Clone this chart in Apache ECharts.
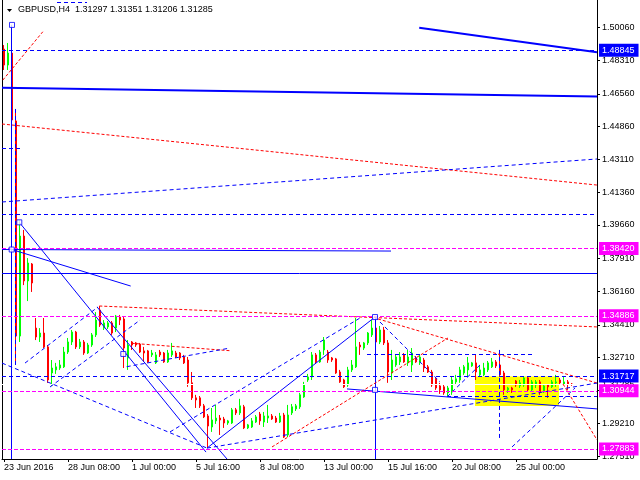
<!DOCTYPE html>
<html><head><meta charset="utf-8">
<script src="https://cdn.jsdelivr.net/npm/echarts@6/dist/echarts.min.js"></script>
<style>html,body{margin:0;padding:0;background:#fff}#c{width:640px;height:480px}</style>
</head><body><div id="c"></div>
<script>
// ---------- data ----------
const symbolName = 'GBPUSD,H4';
const lastBarOHLC = [1.31297, 1.31351, 1.31206, 1.31285];
// candles: [open, close, low, high], one per H4 bar starting 23 Jun 16:00
const candles = [
[1.4891,1.4807,1.4781,1.4912],[1.4807,1.4870,1.4781,1.4923],[1.4870,1.4518,1.4507,1.5018],[1.4513,1.3382,1.3230,1.4576],
[1.3382,1.3908,1.3351,1.3992],[1.3908,1.3672,1.3650,1.3940],[1.3672,1.3766,1.3566,1.3792],[1.3761,1.3661,1.3614,1.3766],
[1.3424,1.3377,1.3361,1.3477],[1.3377,1.3398,1.3351,1.3424],[1.3398,1.3325,1.3319,1.3477],[1.3325,1.3151,1.3136,1.3335],
[1.3188,1.3214,1.3120,1.3256],[1.3204,1.3220,1.3183,1.3241],[1.3214,1.3230,1.3204,1.3256],[1.3220,1.3298,1.3214,1.3325],
[1.3298,1.3351,1.3288,1.3372],[1.3351,1.3403,1.3335,1.3414],[1.3403,1.3325,1.3314,1.3409],[1.3325,1.3351,1.3314,1.3367],
[1.3351,1.3293,1.3283,1.3361],[1.3293,1.3335,1.3288,1.3346],[1.3335,1.3388,1.3325,1.3398],[1.3388,1.3466,1.3377,1.3508],
[1.3519,1.3440,1.3430,1.3540],[1.3424,1.3451,1.3414,1.3466],[1.3430,1.3451,1.3419,1.3461],[1.3451,1.3398,1.3388,1.3461],
[1.3424,1.3487,1.3403,1.3493],[1.3482,1.3466,1.3440,1.3493],[1.3472,1.3319,1.3214,1.3482],[1.3267,1.3335,1.3204,1.3361],
[1.3351,1.3335,1.3309,1.3356],[1.3346,1.3335,1.3325,1.3351],[1.3340,1.3298,1.3293,1.3346],[1.3304,1.3293,1.3246,1.3325],
[1.3304,1.3246,1.3241,1.3309],[1.3283,1.3293,1.3272,1.3309],[1.3241,1.3283,1.3235,1.3298],[1.3298,1.3283,1.3272,1.3309],
[1.3293,1.3246,1.3241,1.3298],[1.3246,1.3293,1.3241,1.3309],[1.3283,1.3304,1.3272,1.3346],[1.3293,1.3272,1.3267,1.3304],
[1.3293,1.3267,1.3256,1.3298],[1.3272,1.3241,1.3235,1.3283],[1.3256,1.3136,1.3115,1.3272],[1.3136,1.3057,1.3046,1.3193],
[1.3057,1.3046,1.3004,1.3073],[1.3057,1.3015,1.3004,1.3067],[1.3015,1.2957,1.2951,1.3025],[1.2962,1.2909,1.2793,1.2972],
[1.2904,1.2941,1.2878,1.3004],[1.2936,1.2951,1.2920,1.3020],[1.2951,1.2941,1.2862,1.2967],[1.2946,1.2925,1.2899,1.2957],
[1.2925,1.2936,1.2915,1.2941],[1.2925,1.2994,1.2920,1.3004],[1.2994,1.2978,1.2967,1.3004],[1.2978,1.3015,1.2967,1.3052],
[1.3010,1.2899,1.2893,1.3020],[1.2899,1.2915,1.2893,1.2920],[1.2904,1.2936,1.2899,1.2951],[1.2930,1.2957,1.2925,1.2967],
[1.2972,1.2936,1.2915,1.2983],[1.2930,1.2962,1.2904,1.2983],[1.2951,1.2962,1.2925,1.3020],[1.2962,1.2946,1.2941,1.2972],
[1.2951,1.2930,1.2925,1.2962],[1.2930,1.2962,1.2925,1.2978],[1.2967,1.2851,1.2846,1.2978],[1.2862,1.2967,1.2851,1.3020],
[1.2978,1.3010,1.2967,1.3025],[1.2999,1.3015,1.2988,1.3025],[1.3010,1.3073,1.2999,1.3083],[1.3062,1.3125,1.3057,1.3141],
[1.3151,1.3167,1.3141,1.3183],[1.3167,1.3283,1.3151,1.3298],[1.3283,1.3246,1.3235,1.3293],[1.3246,1.3298,1.3241,1.3309],
[1.3309,1.3361,1.3283,1.3377],[1.3298,1.3256,1.3241,1.3309],[1.3267,1.3256,1.3246,1.3272],[1.3262,1.3188,1.3183,1.3267],
[1.3193,1.3141,1.3136,1.3204],[1.3151,1.3115,1.3109,1.3157],[1.3125,1.3204,1.3115,1.3220],[1.3204,1.3230,1.3193,1.3256],
[1.3220,1.3325,1.3214,1.3477],[1.3335,1.3325,1.3283,1.3351],[1.3319,1.3346,1.3309,1.3351],[1.3346,1.3398,1.3335,1.3403],
[1.3388,1.3424,1.3377,1.3466],[1.3424,1.3351,1.3335,1.3482],[1.3351,1.3414,1.3340,1.3435],[1.3414,1.3346,1.3335,1.3430],
[1.3346,1.3193,1.3136,1.3361],[1.3188,1.3256,1.3151,1.3309],[1.3230,1.3272,1.3220,1.3283],[1.3246,1.3272,1.3230,1.3298],
[1.3283,1.3246,1.3241,1.3293],[1.3241,1.3272,1.3225,1.3309],[1.3230,1.3293,1.3193,1.3319],[1.3267,1.3246,1.3241,1.3277],
[1.3241,1.3272,1.3230,1.3283],[1.3256,1.3214,1.3193,1.3267],[1.3220,1.3193,1.3188,1.3230],[1.3193,1.3125,1.3115,1.3204],
[1.3157,1.3109,1.3099,1.3167],[1.3120,1.3099,1.3078,1.3136],[1.3115,1.3083,1.3073,1.3125],[1.3083,1.3109,1.3062,1.3120],
[1.3088,1.3151,1.3073,1.3167],[1.3141,1.3157,1.3130,1.3178],[1.3151,1.3204,1.3136,1.3220],[1.3188,1.3220,1.3178,1.3230],
[1.3204,1.3241,1.3167,1.3272],[1.3225,1.3241,1.3220,1.3246],[1.3241,1.3193,1.3151,1.3283],[1.3178,1.3204,1.3167,1.3230],
[1.3178,1.3214,1.3172,1.3241],[1.3204,1.3241,1.3193,1.3251],[1.3220,1.3246,1.3214,1.3267],[1.3246,1.3225,1.3214,1.3256],
[1.3230,1.3178,1.3167,1.3298],[1.3188,1.3099,1.3073,1.3199],[1.3099,1.3109,1.3083,1.3115],[1.3109,1.3099,1.3083,1.3115],
[1.3146,1.3125,1.3115,1.3151],[1.3120,1.3136,1.3109,1.3151],[1.3125,1.3162,1.3115,1.3167],[1.3162,1.3099,1.3088,1.3167],
[1.3099,1.3141,1.3088,1.3151],[1.3125,1.3141,1.3109,1.3151],[1.3141,1.3088,1.3073,1.3151],[1.3088,1.3120,1.3083,1.3125],
[1.3125,1.3115,1.3057,1.3130],[1.3115,1.3141,1.3109,1.3151],[1.3136,1.3141,1.3115,1.3178],[1.3151,1.3136,1.3125,1.3162],
[1.3130,1.3141,1.3125,1.3167],[1.3141,1.3130,1.3099,1.3151],[1.31297,1.31285,1.31206,1.31351]
];
const xTickIndex = [0,16,32,48,64,80,96,112,128];
const xTickLabels = ['23 Jun 2016','28 Jun 08:00','1 Jul 00:00','5 Jul 16:00','8 Jul 08:00','13 Jul 00:00','15 Jul 16:00','20 Jul 08:00','25 Jul 00:00'];
const yTickValues = [1.50060,1.48310,1.46560,1.44860,1.43110,1.41360,1.39660,1.37910,1.36160,1.34410,1.32710,1.30960,1.29210,1.27510];
const xRange = [-0.5, 148.25];
const yRange = [1.27356, 1.51490];
const bidPrice = 1.31285;
// horizontal levels
const blueLabelLevels = [1.48845, 1.31717];
const magentaLabelLevels = [1.38420, 1.34886, 1.30944, 1.27883];
const blueDashLevels = [1.4024];
const blueSolidLevels = [1.3712];
// drawn segments: [barIndex1, price1, barIndex2, price2]
const blueThickLines = [[-0.5,1.4688,148.25,1.4641],[103.8,1.5003,148.25,1.4874]];
const blueSolidLines = [
[-0.5,1.3837,96.75,1.3829],[1.925,1.5018,1.925,1.27356],[1.925,1.3837,31.675,1.3645],
[3.825,1.3980,50.5,1.2772],[23.25,1.3535,55.75,1.27356],[50.75,1.2793,92.75,1.3482],
[85.75,1.3104,148.25,1.2999],[92.75,1.3482,92.75,1.27356]
];
const blueDashLines = [
[-0.5,1.4087,148.25,1.4313],[13.25,1.5135,20.75,1.5135],[-0.5,1.4371,4.75,1.4371],[2.75,1.4576,2.75,1.3230],
[30.675,1.3221,56.5,1.3319],[5.25,1.3240,23.5,1.3535],[11.5,1.3114,34,1.3466],[-0.5,1.3240,50.75,1.2793],
[50.75,1.2793,148.25,1.3135],[41.5,1.2878,89,1.3477],[92.75,1.3482,109,1.3141],[90.75,1.3288,132.75,1.3288],
[123.825,1.3309,123.825,1.2836],[110.75,1.3067,148.25,1.3067],[127,1.2799,142.75,1.3109],[110.75,1.3062,119,1.3230]
];
const redDashLines = [
[-0.5,1.4497,148.25,1.4176],[-0.3,1.4728,9.7,1.4982],[23.825,1.3540,148.25,1.3430],[31.925,1.3344,56.5,1.3305],
[67,1.2799,111,1.3372],[93.5,1.3472,148.25,1.3135],[139.75,1.3130,148.25,1.2836]
];
const yellowZones = [[117.75,1.3170,138.75,1.3014]];
const anchorPoints = [[2,1.5018],[3.825,1.3980],[1.925,1.3837],[29.825,1.3288],[92.75,1.3482],[92.75,1.3099]];

// ---------- chart ----------
const FONT = 'Liberation Sans';
const BLUE = '#0000ff', RED = '#ff0000', MAG = '#ff00ff';
const boxLabel = (v, bg, fg) => ({
  show: true, position: 'end', distance: 2, formatter: v.toFixed(5),
  color: fg, backgroundColor: bg, fontFamily: FONT, fontSize: 9,
  padding: [2, 4, 1, 3], lineHeight: 10
});
// a horizontal level is a segment across the whole plot, at the level's price
const levelSeg = v => [xRange[0], v, xRange[1], v];
const ml = (color, type, width, levels, segs, labelFn, z) => {
  const data = levels.map(v => {
    const s = levelSeg(v);
    const a = {coord: [s[0], s[1]]};
    if (labelFn) a.label = labelFn(v);
    return [a, {coord: [s[2], s[3]]}];
  }).concat(segs.map(s => [{coord: [s[0], s[1]]}, {coord: [s[2], s[3]]}]));
  return {
    type: 'line', data: [], z: z || 3, silent: true, animation: false,
    markLine: {
      symbol: ['none','none'], silent: true, animation: false, precision: 5,
      label: {show: false}, emphasis: {disabled: true},
      lineStyle: {color: color, type: type, width: width, opacity: 1},
      data: data
    }
  };
};

const chart = echarts.init(document.getElementById('c'), null, {renderer: 'canvas'});
chart.setOption({
  animation: false,
  backgroundColor: '#ffffff',
  grid: {left: 2, right: 43, top: 0, bottom: 21, containLabel: false, outerBoundsMode: 'none'},
  xAxis: {
    type: 'value', min: xRange[0], max: xRange[1], position: 'bottom',
    axisLine: {show: true, onZero: false, lineStyle: {color: '#000', width: 1}},
    splitLine: {show: false},
    axisTick: {show: true, length: 3, customValues: xTickIndex, lineStyle: {color: '#000'}},
    axisLabel: {
      customValues: xTickIndex, align: 'left', margin: 4, hideOverlap: false,
      fontFamily: FONT, fontSize: 9, color: '#000',
      formatter: v => xTickLabels[xTickIndex.indexOf(Math.round(v))]
    }
  },
  yAxis: [{
    type: 'value', min: yRange[0], max: yRange[1], position: 'right',
    axisLine: {show: true, onZero: false, lineStyle: {color: '#000', width: 1}},
    splitLine: {show: false},
    axisTick: {show: true, length: 3, customValues: yTickValues, lineStyle: {color: '#000'}},
    axisLabel: {
      customValues: yTickValues, margin: 5, hideOverlap: false,
      fontFamily: FONT, fontSize: 9, color: '#000',
      formatter: v => v.toFixed(5)
    }
  }, {
    type: 'value', min: yRange[0], max: yRange[1], position: 'left',
    axisLine: {show: true, onZero: false, lineStyle: {color: '#000', width: 1}},
    splitLine: {show: false}, axisTick: {show: false}, axisLabel: {show: false}
  }],
  graphic: [
    {type: 'polygon', shape: {points: [[7,9],[12,9],[9.5,12]]}, style: {fill: '#000'}, z: 10},
    {type: 'text', left: 18, top: 5, z: 10,
     style: {text: symbolName + '  ' + lastBarOHLC.map(v => v.toFixed(5)).join(' '),
             font: '9px "' + FONT + '"', fill: '#000'}}
  ],
  series: [
    {
      type: 'line', data: [], z: 1, silent: true, animation: false,
      markArea: {
        silent: true, itemStyle: {color: '#ffff00', opacity: 1},
        data: yellowZones.map(zn => [{coord: [zn[0], zn[1]]}, {coord: [zn[2], zn[3]]}])
      },
      markLine: {
        symbol: ['none','none'], silent: true, animation: false, precision: 5,
        lineStyle: {color: '#ffffff', type: 'solid', width: 1},
        label: {show: false},
        data: [[{coord: [xRange[0], bidPrice], label: boxLabel(bidPrice, '#ffffff', '#000000')}, {coord: [xRange[1], bidPrice]}]]
      }
    },
    {
      type: 'candlestick', z: 2, silent: true, animation: false,
      barWidth: 2,
      encode: {x: 0, y: [1, 2, 3, 4]},
      data: candles.map((c, i) => [i, c[0], c[1], c[2], c[3]]),
      itemStyle: {color: '#00ff00', color0: '#ff0000', borderColor: '#00ff00', borderColor0: '#ff0000', borderWidth: 1}
    },
    ml(BLUE, 'solid', 2, [], blueThickLines),
    ml(BLUE, 'solid', 1, blueSolidLevels, blueSolidLines),
    ml(RED, [3, 2], 1, [], redDashLines),
    ml(BLUE, [4, 3], 1, blueDashLevels, blueDashLines),
    ml(MAG, [4, 2], 1, magentaLabelLevels, [], v => boxLabel(v, MAG, '#ffffff')),
    ml(BLUE, [4, 3], 1, blueLabelLevels, [], v => boxLabel(v, BLUE, '#ffffff'), 4),
    {
      type: 'scatter', z: 6, silent: true, animation: false,
      symbol: 'rect', symbolSize: 5,
      itemStyle: {color: '#ffffff', borderColor: BLUE, borderWidth: 1},
      data: anchorPoints
    }
  ]
});
</script>
</body></html>
